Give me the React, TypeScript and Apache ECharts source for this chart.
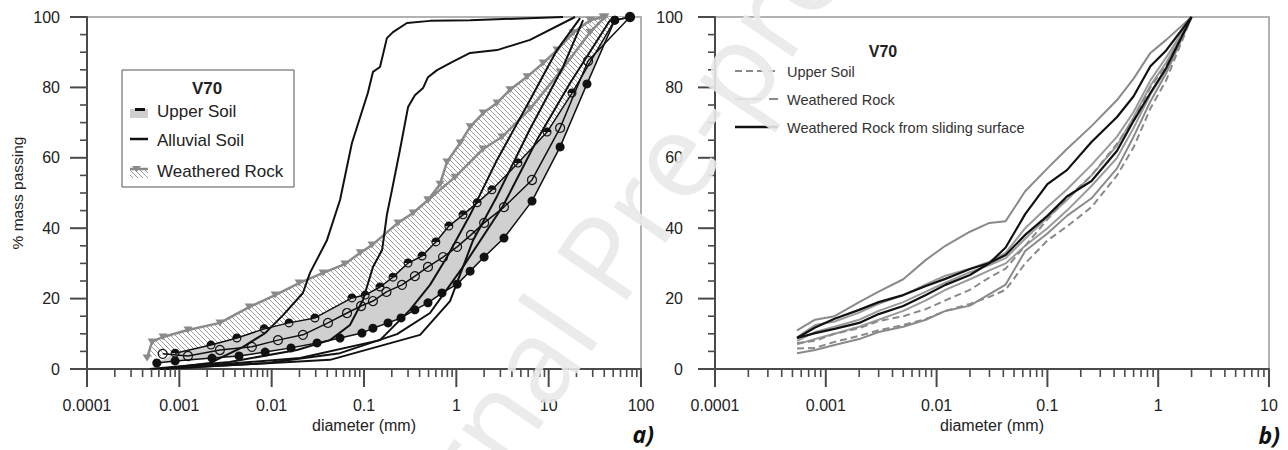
import React, { useEffect, useRef } from 'react';
import * as echarts from 'echarts';

// ---------- axis labels and ticks ----------
const LEFT_TICK_LABELS = ['0.0001', '0.001', '0.01', '0.1', '1', '10', '100'];
const RIGHT_TICK_LABELS = ['0.0001', '0.001', '0.01', '0.1', '1', '10'];
const LEFT_DECADES = [1e-4, 1e-3, 1e-2, 1e-1, 1, 10, 100];
const RIGHT_DECADES = [1e-4, 1e-3, 1e-2, 1e-1, 1, 10];
const MANTISSAS = [2, 3, 4, 5, 6, 7, 8, 9];
const Y_MAJOR = [0, 20, 40, 60, 80, 100];
const Y_MINOR = [5, 10, 15, 25, 30, 35, 45, 50, 55, 65, 70, 75, 85, 90, 95];

// ---------- panel a) : [diameter (mm), % passing] ----------
// Upper Soil, three samples (half-filled / open / filled markers)
const US_UPPER = [
  [0.0009, 4.5], [0.0022, 6.8], [0.0042, 8.8], [0.0083, 11.4], [0.0154, 13.1], [0.0294, 14.5],
  [0.074, 20.2], [0.103, 21.0], [0.149, 23.3], [0.206, 26.1], [0.3, 30.1], [0.425, 32.1],
  [0.6, 36.1], [0.83, 40.6], [1.18, 43.8], [1.68, 47.2], [2.43, 50.9], [4.65, 58.5],
  [9.6, 67.3], [17.9, 78.4], [52, 99.1], [76, 100],
];
const US_MID = [
  [0.00066, 4.3], [0.00124, 3.7], [0.00275, 5.4], [0.0061, 6.3], [0.0117, 8.2], [0.0218, 9.7],
  [0.0407, 13.1], [0.0655, 15.9], [0.093, 17.9], [0.125, 19.3], [0.175, 21.9], [0.258, 23.9],
  [0.356, 26.4], [0.493, 29.0], [0.718, 31.8], [1.02, 34.7], [1.44, 38.1], [2.0, 41.5],
  [3.28, 46.0], [6.6, 53.7], [13.3, 68.5], [26.7, 87.5], [76, 100],
];
const US_LOWER = [
  [0.00057, 1.7], [0.0009, 2.3], [0.00226, 3.1], [0.00443, 3.7], [0.0085, 4.8], [0.0162, 6.0],
  [0.031, 7.4], [0.055, 8.8], [0.095, 10.2], [0.125, 11.6], [0.182, 13.1], [0.252, 14.5],
  [0.356, 16.8], [0.493, 18.8], [0.7, 21.6], [1.02, 24.1], [1.41, 27.8], [2.0, 31.8],
  [3.28, 37.2], [6.6, 47.7], [13.3, 63.1], [26, 81.0], [52, 99.1], [76, 100],
];
// Alluvial Soil samples
const AL_A = [
  [0.00062, 0], [0.00215, 1.7], [0.0049, 6.3], [0.0085, 10.2], [0.0133, 15.3], [0.0218, 21.6],
  [0.026, 27.3], [0.0397, 36.6], [0.055, 48.0], [0.074, 64.2], [0.11, 78.4], [0.125, 84.4],
  [0.149, 85.8], [0.177, 94.0], [0.206, 95.7], [0.292, 98.3], [0.52, 98.9], [1.41, 99.1], [14.3, 100],
];
const AL_B = [
  [0.00048, 0], [0.0035, 2.0], [0.0188, 5.4], [0.0429, 8.2], [0.0705, 12.5], [0.0975, 19.6],
  [0.125, 29.0], [0.157, 33.8], [0.177, 43.8], [0.201, 50.9], [0.245, 62.2], [0.3, 74.4],
  [0.356, 77.8], [0.436, 79.8], [0.493, 82.9], [0.618, 84.9], [0.897, 87.2], [1.41, 89.8],
  [2.76, 90.6], [6.28, 93.5], [19.3, 100],
];
const AL_C = [
  [0.00062, 0], [0.0203, 3.1], [0.149, 8.2], [0.315, 16.8], [0.519, 23.9], [0.792, 31.8],
  [1.41, 43.8], [2.76, 59.4], [6.28, 76.4], [12.3, 90.6], [21.9, 99.7],
];
const AL_D = [
  [0.00062, 0], [0.0429, 2.6], [0.405, 9.7], [0.855, 19.3], [1.52, 36.6], [2.76, 49.1],
  [6.28, 68.2], [14.3, 85.8], [23.6, 99.1],
];
const AL_E = [
  [0.00062, 0], [0.0089, 1.7], [0.055, 4.5], [0.228, 9.9], [0.519, 15.9], [1.18, 29.0],
  [3.2, 46.3], [7.48, 65.1], [17.0, 81.2], [46.2, 99.1],
];
// Weathered Rock envelope
const WR_UPPER = [
  [0.000447, 3.1], [0.000506, 7.7], [0.000665, 9.1], [0.00124, 11.1], [0.00275, 13.1],
  [0.0057, 17.6], [0.0109, 21.0], [0.0198, 24.4], [0.036, 27.3], [0.062, 29.8], [0.091, 33.0],
  [0.122, 35.2], [0.233, 41.5], [0.34, 44.3], [0.493, 48.0], [0.665, 52.5], [0.79, 58.8],
  [1.1, 64.2], [1.41, 68.8], [1.95, 72.7], [2.76, 75.6], [3.81, 79.3], [5.83, 83.0],
  [8.7, 86.9], [12.3, 90.6], [18.4, 95.5], [28.1, 99.1], [38.8, 100],
];
const WR_INNER = [
  [0.493, 48.0], [0.968, 54.5], [1.95, 62.5], [3.12, 65.9], [6.28, 73.9], [13.3, 84.4],
  [28.1, 95.7], [40.7, 100],
];

// ---------- panel b) ----------
const RIGHT_DIAM = [
  0.00055, 0.0008, 0.0012, 0.002, 0.003, 0.005, 0.008, 0.012, 0.02, 0.03,
  0.042, 0.063, 0.1, 0.15, 0.25, 0.425, 0.6, 0.85, 1.18, 2.0,
];
const UPPER_SOIL_1 = [7.4, 8.0, 10.0, 11.6, 13.6, 15.0, 17.0, 19.5, 22.5, 26.0, 28.5, 35.0, 42.5, 48.5, 55.0, 64.0, 71.0, 80.0, 86.5, 100];
const UPPER_SOIL_2 = [5.8, 6.0, 7.7, 9.4, 11.0, 12.5, 14.2, 16.5, 18.5, 20.5, 22.5, 30.0, 36.5, 40.5, 46.0, 55.0, 63.0, 74.0, 82.0, 100];
const ROCK_1 = [11.0, 14.0, 15.0, 19.0, 22.0, 25.5, 31.0, 35.0, 39.0, 41.5, 42.0, 50.5, 57.0, 62.5, 69.0, 76.4, 82.5, 89.8, 93.5, 100];
const ROCK_2 = [9.0, 12.5, 13.5, 16.0, 18.5, 21.0, 24.0, 26.5, 28.5, 30.5, 33.0, 40.0, 46.0, 51.0, 58.0, 66.0, 73.0, 82.0, 88.5, 100];
const ROCK_3 = [8.0, 10.5, 12.0, 14.0, 16.5, 19.0, 22.0, 24.5, 27.5, 29.5, 31.5, 37.0, 43.0, 48.0, 55.0, 63.5, 71.5, 80.5, 87.0, 100];
const ROCK_4 = [7.0, 8.5, 10.0, 12.0, 14.0, 16.5, 19.5, 22.5, 25.5, 28.0, 30.0, 35.0, 40.0, 45.0, 52.0, 60.0, 68.5, 78.0, 85.0, 100];
const ROCK_5 = [4.5, 5.4, 6.8, 8.5, 10.5, 12.0, 14.0, 16.5, 18.0, 21.3, 24.0, 33.5, 38.5, 43.5, 48.5, 57.0, 66.0, 76.0, 84.0, 100];
const SLIDING_1 = [8.8, 11.8, 14.3, 16.8, 19.0, 21.0, 23.6, 25.6, 28.4, 30.1, 34.5, 44.0, 52.5, 56.5, 64.5, 71.6, 77.5, 86.0, 90.5, 100];
const SLIDING_2 = [8.8, 10.2, 11.4, 13.1, 15.6, 17.9, 21.0, 23.9, 26.7, 30.1, 32.4, 38.1, 43.5, 49.0, 53.4, 62.0, 70.5, 78.4, 85.5, 100];

const FONT = '"Liberation Sans", Arial, sans-serif';
const AXIS_COLOR = '#4a4a4a';
const GREY = '#8a8a8a';
const HALF_CIRCLE =
  'path://M10,0A10,10,0,1,1,10,20A10,10,0,1,1,10,0ZM17.4,10L2.6,10A7.4,7.4,0,0,0,17.4,10Z';

function makeHatch(): HTMLCanvasElement {
  const c = document.createElement('canvas');
  c.width = 5;
  c.height = 5;
  const g = c.getContext('2d')!;
  g.fillStyle = '#ffffff';
  g.fillRect(0, 0, 5, 5);
  g.strokeStyle = '#9c9c9c';
  g.lineWidth = 1;
  g.beginPath();
  g.moveTo(-1, -1); g.lineTo(6, 6);
  g.moveTo(-1, 4); g.lineTo(1, 6);
  g.moveTo(4, -1); g.lineTo(6, 1);
  g.stroke();
  return c;
}

export default function App() {
  const ref = useRef<HTMLDivElement>(null);

  useEffect(() => {
    const chart = echarts.init(ref.current!, null, { renderer: 'svg' });
    const hatch = makeHatch();
    const hatchFill: any = { image: hatch, repeat: 'repeat', imageWidth: 5, imageHeight: 5 };

    const xAxisBase = (grid: number, max: number, labels: string[]) => ({
      type: 'log',
      logBase: 10,
      gridIndex: grid,
      min: 1e-4,
      max,
      axisLine: { show: true, lineStyle: { color: AXIS_COLOR, width: 2 } },
      axisTick: { show: false },
      minorTick: { show: false },
      splitLine: { show: false },
      axisLabel: {
        fontSize: 16,
        fontFamily: FONT,
        color: '#222',
        margin: 28,
        formatter: (v: number) => labels[Math.round(Math.log10(v)) + 4] ?? '',
      },
      name: 'diameter (mm)',
      nameLocation: 'middle',
      nameGap: 47,
      nameTextStyle: { fontSize: 16, fontFamily: FONT, color: '#222' },
    });

    const yAxisBase = (grid: number, margin: number) => ({
      type: 'value',
      gridIndex: grid,
      min: 0,
      max: 100,
      interval: 20,
      axisLine: { show: true, lineStyle: { color: AXIS_COLOR, width: 2 } },
      axisTick: { show: false },
      minorTick: { show: false },
      splitLine: { show: false },
      axisLabel: { fontSize: 16, fontFamily: FONT, color: '#222', margin },
    });

    const band = (upper: number[][], lower: number[][], fill: any, z: number) => ({
      type: 'custom',
      xAxisIndex: 0,
      yAxisIndex: 0,
      data: [[1, 50]],
      silent: true,
      clip: true,
      z,
      renderItem: (_p: any, api: any) => {
        const pts = upper.map((p) => api.coord(p)).concat(lower.slice().reverse().map((p) => api.coord(p)));
        return { type: 'polygon', shape: { points: pts }, style: { fill, stroke: null } };
      },
    });

    const plain = (data: number[][], color: string, width: number, z: number) => ({
      type: 'line',
      xAxisIndex: 0,
      yAxisIndex: 0,
      data,
      symbol: 'none',
      silent: true,
      lineStyle: { color, width },
      z,
    });

    const marked = (data: number[][], symbol: string, itemStyle: any) => ({
      type: 'line',
      xAxisIndex: 0,
      yAxisIndex: 0,
      data,
      symbol,
      symbolSize: 9,
      showSymbol: true,
      silent: true,
      lineStyle: { color: '#111', width: 1.5 },
      itemStyle,
      z: 5,
    });

    const rock = (data: number[][]) => ({
      type: 'line',
      xAxisIndex: 0,
      yAxisIndex: 0,
      data,
      symbol: 'triangle',
      symbolRotate: 180,
      symbolSize: [9, 7],
      showSymbol: true,
      silent: true,
      lineStyle: { color: GREY, width: 2.5 },
      itemStyle: { color: GREY, borderWidth: 0 },
      z: 3,
    });

    const rightLine = (vals: number[], color: string, width: number, type: any, z: number) => ({
      type: 'line',
      xAxisIndex: 1,
      yAxisIndex: 1,
      data: RIGHT_DIAM.map((d, i) => [d, vals[i]]),
      symbol: 'none',
      silent: true,
      lineStyle: { color, width, type },
      z,
    });

    const txt = (x: number, y: number, text: string, size: number, extra: any = {}) => ({
      type: 'text',
      x,
      y,
      silent: true,
      z: 50,
      style: {
        text,
        fontSize: size,
        fontFamily: FONT,
        fill: '#222',
        align: 'left',
        verticalAlign: 'middle',
        ...extra,
      },
    });

    const baseGraphic: any[] = [
      // legend of panel a)
      {
        type: 'rect',
        z: 40,
        silent: true,
        shape: { x: 122, y: 70, width: 172, height: 117 },
        style: { fill: '#fff', stroke: '#555', lineWidth: 1 },
      },
      txt(207, 88, 'V70', 17, { fontWeight: 'bold', align: 'center' }),
      {
        type: 'rect', z: 50, silent: true,
        shape: { x: 130, y: 109, width: 18, height: 9 },
        style: { fill: '#cfcfcf' },
      },
      {
        type: 'line', z: 51, silent: true,
        shape: { x1: 135, y1: 109.5, x2: 145, y2: 109.5 },
        style: { stroke: '#111', lineWidth: 3 },
      },
      txt(157, 111, 'Upper Soil', 17),
      {
        type: 'line', z: 50, silent: true,
        shape: { x1: 130, y1: 139, x2: 148, y2: 139 },
        style: { stroke: '#111', lineWidth: 2.5 },
      },
      txt(157, 140, 'Alluvial Soil', 17),
      {
        type: 'rect', z: 50, silent: true,
        shape: { x: 130, y: 170, width: 18, height: 8 },
        style: { fill: hatchFill },
      },
      {
        type: 'line', z: 51, silent: true,
        shape: { x1: 130, y1: 169, x2: 148, y2: 169 },
        style: { stroke: GREY, lineWidth: 2.5 },
      },
      {
        type: 'polygon', z: 51, silent: true,
        shape: { points: [[132, 166], [141, 166], [136.5, 172]] },
        style: { fill: GREY },
      },
      txt(157, 171, 'Weathered Rock', 17),

      // legend of panel b)
      txt(883, 51, 'V70', 16, { fontWeight: 'bold', align: 'center' }),
      {
        type: 'line', z: 50, silent: true,
        shape: { x1: 735, y1: 71, x2: 778, y2: 71 },
        style: { stroke: GREY, lineWidth: 2, lineDash: [7, 4] },
      },
      txt(787, 72, 'Upper Soil', 14.5, { fill: '#333' }),
      {
        type: 'line', z: 50, silent: true,
        shape: { x1: 735, y1: 99, x2: 778, y2: 99 },
        style: { stroke: GREY, lineWidth: 2, lineDash: [27, 7] },
      },
      txt(787, 100, 'Weathered Rock', 14.5, { fill: '#333' }),
      {
        type: 'line', z: 50, silent: true,
        shape: { x1: 735, y1: 127, x2: 778, y2: 127 },
        style: { stroke: '#111', lineWidth: 2.5 },
      },
      txt(787, 128, 'Weathered Rock from sliding surface', 14.5, { fill: '#333' }),

      // panel letters
      txt(654, 434, 'a)', 23, { fontWeight: 'bold', fontStyle: 'italic', align: 'right', fontFamily: '"Open Sans", sans-serif', fill: '#111' }),
      txt(1280, 435, 'b)', 23, { fontWeight: 'bold', fontStyle: 'italic', align: 'right', fontFamily: '"Open Sans", sans-serif', fill: '#111' }),
    ];

    const watermark = {
      type: 'text',
      x: 612,
      y: 241,
      rotation: 0.972,
      silent: true,
      z: 200,
      style: {
        text: 'Journal Pre-proof',
        fontSize: 118,
        fontFamily: '"Open Sans", sans-serif',
        fill: '#e9e9e9',
        opacity: 0.9,
        align: 'center',
        verticalAlign: 'middle',
      },
    };

    const option: any = {
      animation: false,
      backgroundColor: '#ffffff',
      grid: [
        { left: 87, top: 17, width: 554, height: 352, show: true, borderColor: '#999', borderWidth: 1.5, backgroundColor: '#fff' },
        { left: 715, top: 17, width: 554, height: 352, show: true, borderColor: '#999', borderWidth: 1.5, backgroundColor: '#fff' },
      ],
      xAxis: [xAxisBase(0, 100, LEFT_TICK_LABELS), xAxisBase(1, 10, RIGHT_TICK_LABELS)],
      yAxis: [
        {
          ...yAxisBase(0, 27),
          name: '% mass passing',
          nameLocation: 'middle',
          nameRotate: 90,
          nameGap: 62,
          nameTextStyle: { fontSize: 15.5, fontFamily: FONT, color: '#222' },
        },
        yAxisBase(1, 32),
      ],
      series: [
        // panel a)
        band(WR_UPPER, US_UPPER, hatchFill, 1),
        band(US_UPPER, US_LOWER, '#d0d0d0', 1),
        rock(WR_UPPER),
        rock(WR_INNER),
        plain(AL_A, '#111', 2, 4),
        plain(AL_B, '#111', 2, 4),
        plain(AL_C, '#111', 2, 4),
        plain(AL_D, '#111', 2, 4),
        plain(AL_E, '#111', 2, 4),
        marked(US_UPPER, HALF_CIRCLE, { color: '#111', borderWidth: 0 }),
        marked(US_MID, 'circle', { color: 'rgba(0,0,0,0)', borderColor: '#111', borderWidth: 1.2 }),
        marked(US_LOWER, 'circle', { color: '#111', borderWidth: 0 }),

        // panel b)
        rightLine(ROCK_1, GREY, 2, 'solid', 3),
        rightLine(ROCK_2, '#9a9a9a', 2, 'solid', 3),
        rightLine(ROCK_3, '#9a9a9a', 2, 'solid', 3),
        rightLine(ROCK_4, '#9a9a9a', 2, 'solid', 3),
        rightLine(ROCK_5, GREY, 2, 'solid', 3),
        rightLine(UPPER_SOIL_1, GREY, 2, [7, 4], 4),
        rightLine(UPPER_SOIL_2, GREY, 2, [7, 4], 4),
        rightLine(SLIDING_1, '#111', 2.2, 'solid', 5),
        rightLine(SLIDING_2, '#111', 2.2, 'solid', 5),
      ],
    };

    chart.setOption(option);

    // tick marks, placed through each panel's own scales
    const ticks: any[] = [];
    const tick = (x1: number, y1: number, x2: number, y2: number, w: number) =>
      ticks.push({
        type: 'line',
        silent: true,
        z: 30,
        shape: { x1, y1, x2, y2 },
        style: { stroke: AXIS_COLOR, lineWidth: w },
      });
    [LEFT_DECADES, RIGHT_DECADES].forEach((decades, i) => {
      const finder = { xAxisIndex: i, yAxisIndex: i };
      const px = (x: number, y: number) => chart.convertToPixel(finder, [x, y]) as number[];
      const bottom = px(1, 0)[1];
      const left = px(1e-4, 0)[0];
      decades.forEach((d, k) => {
        const x = px(d, 0)[0];
        tick(x, bottom, x, bottom + 18, 2);
        if (k < decades.length - 1) {
          MANTISSAS.forEach((m) => {
            const xm = px(m * d, 0)[0];
            tick(xm, bottom, xm, bottom + 8, 1.6);
          });
        }
      });
      Y_MAJOR.forEach((v) => {
        const y = px(1, v)[1];
        tick(left - 17, y, left, y, 2);
      });
      Y_MINOR.forEach((v) => {
        const y = px(1, v)[1];
        tick(left - 7, y, left, y, 1.6);
      });
    });

    chart.setOption({ graphic: [...baseGraphic, ...ticks, watermark] });
    return () => chart.dispose();
  }, []);

  return (
    <div
      ref={ref}
      style={{ position: 'fixed', left: 0, top: 0, width: 1288, height: 450, background: '#fff' }}
    />
  );
}
